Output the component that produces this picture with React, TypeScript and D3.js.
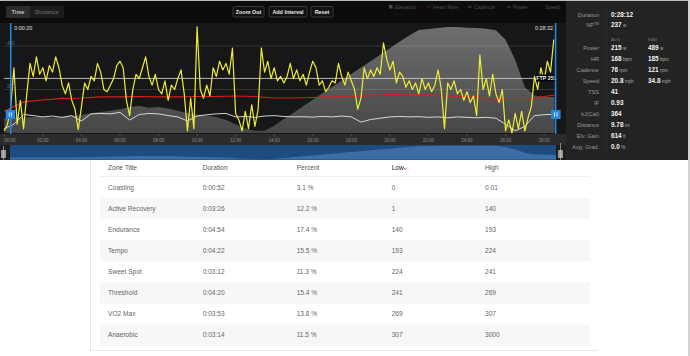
import React from "react";
import * as d3 from "d3";

// ---------------- DATA ----------------
// power samples every 10 s from 0:00
const powerWatts = [
  10, 40,
  120, 300, 40, 150, 20, 180, 320, 260, 350, 270, 300, 240, 310, 280, 350, 300, 220, 180, 230, 150, 110, 15, 120, 230, 200, 260, 240, 320, 280, 200,
  190, 220, 250, 310, 330, 300, 150, 80, 200, 270, 250, 300, 350, 260, 220, 270, 200, 180, 240, 150, 220, 200, 250, 290, 180, 10, 160, 20, 488, 200,
  160, 220, 170, 300, 260, 330, 290, 320, 270, 390, 90, 60, 10, 100, 20, 130, 30, 110, 391, 280, 330, 250, 300, 240, 260, 230, 260, 320, 250, 290,
  240, 270, 220, 280, 330, 300, 220, 240, 190, 210, 240, 230, 320, 260, 220, 280, 240, 200, 110, 160, 300, 250, 290, 260, 300, 270, 414, 340, 290, 330,
  230, 280,
  260, 210, 240, 200, 230, 180, 250, 200, 230, 190, 220, 290, 200, 20, 230, 200, 240, 180, 200, 150, 190, 140, 170, 80, 359, 200, 250, 170, 270, 180,
  140, 200, 10, 60, 0, 90, 20, 100, 10, 70, 120, 260, 200, 300, 240, 330, 280, 430,
];
const powerStepSec = 10;

// cadence every 30 s
const cadenceRpm = [
  20, 40, 85, 80, 74, 78, 72, 80, 55, 88, 90, 88, 95, 60, 85, 90, 88, 80, 74, 55,
  78, 84, 88, 90, 74, 76, 72, 78, 80, 76, 74, 75, 73, 76, 74, 78, 74, 50, 62, 68,
  74, 76, 74, 75, 72, 74, 70, 74, 72, 70, 72, 68, 40, 10, 30, 80, 84, 86,
];
const cadenceStepSec = 30;

// elevation (ft) every 30 s
const elevationFt = [
  98, 98, 100, 105, 105, 100, 105, 111, 118, 131, 137, 145, 155, 170, 177, 165, 170, 160, 145, 130,
  120, 115, 105, 85, 55, 30, 15, 15, 48, 92, 133, 175, 218, 260, 301, 344, 386, 428, 470, 512,
  555, 597, 638, 674, 680, 687, 693, 693, 688, 687, 682, 672, 610, 480, 300, 245, 235, 235,
];
const elevationStepSec = 30;

// heart rate: seconds and bpm
const heartRateSec = [0, 60, 120, 180, 240, 300, 360, 420, 480, 540, 600, 660, 720, 780, 840, 900, 960, 1020, 1080, 1140, 1200, 1260, 1320, 1380, 1440, 1500, 1560, 1620, 1680, 1712];
const heartRateBpm = [100, 143, 152, 159, 161, 166, 166, 168, 166, 166, 168, 168, 170, 168, 161, 161, 163, 166, 168, 172, 177, 179, 175, 170, 166, 163, 156, 152, 168, 175];

const rideEndSec = 1712;
const cursorStartSec = 20;
const ftpWatts = 251;
const powerTicks = [0, 200, 400];
const timeTicksSec = [0, 120, 240, 360, 480, 600, 720, 840, 960, 1080, 1200, 1320, 1440, 1560, 1680];
const timeTickLabels = ["00:00", "02:00", "04:00", "06:00", "08:00", "10:00", "12:00", "14:00", "16:00", "18:00", "20:00", "22:00", "24:00", "26:00", "28:00"];

const legendNames = ["Elevation", "Heart Rate", "Cadence", "Power", "Speed"];
const legendColors = ["#4a4a4a", "#5a1c1c", "#505050", "#55521c", "none"];

const statTopLabels = ["Duration", "NP"];
const statTopValues = ["0:28:12", "237"];
const statTopUnits = ["", "w"];
const statNames = ["Power", "HR", "Cadence", "Speed", "TSS", "IF", "kJ(Cal)", "Distance", "Elv. Gain", "Avg. Grad."];
const statAvg = ["215", "168", "76", "20.8", "41", "0.93", "364", "9.78", "614", "0.0"];
const statAvgUnit = ["w", "bpm", "rpm", "mph", "", "", "", "mi", "ft", "%"];
const statMax = ["489", "185", "121", "34.8", "", "", "", "", "", ""];
const statMaxUnit = ["w", "bpm", "rpm", "mph", "", "", "", "", "", ""];

const tableHeaders = ["Zone Title", "Duration", "Percent", "Low", "High"];
const zoneTitles = ["Coasting", "Active Recovery", "Endurance", "Tempo", "Sweet Spot", "Threshold", "VO2 Max", "Anaerobic"];
const zoneDurations = ["0:00:52", "0:03:26", "0:04:54", "0:04:22", "0:03:12", "0:04:20", "0:03:53", "0:03:14"];
const zonePercents = ["3.1 %", "12.2 %", "17.4 %", "15.5 %", "11.3 %", "15.4 %", "13.8 %", "11.5 %"];
const zoneLows = ["0", "1", "140", "193", "224", "241", "269", "307"];
const zoneHighs = ["0.01", "140", "193", "224", "241", "269", "307", "3000"];

const FONT = "'Liberation Sans', Arial, Helvetica, sans-serif";

function fmtCursor(s: number) {
  const m = Math.floor(s / 60);
  const ss = s % 60;
  return `0:${String(m).padStart(2, "0")}:${String(ss).padStart(2, "0")}`;
}

export default function App() {
  const x = d3.scaleLinear().domain([0, rideEndSec]).range([4.3, 554.4]);
  const y = d3.scaleLinear().domain([0, 400]).range([133, 46]);
  const yElev = d3.scaleLinear().domain([0, 700]).range([133, 26]);
  const xNav = d3.scaleLinear().domain([0, rideEndSec]).range([10, 556]);
  const yNav = d3.scaleLinear().domain([0, 700]).range([159.5, 145.5]);

  const powerPts: [number, number][] = powerWatts.map((v, i) => [i * powerStepSec, v]);
  const cadPts: [number, number][] = cadenceRpm.map((v, i) => [i * cadenceStepSec, v]);
  const elevPts: [number, number][] = elevationFt.map((v, i) => [Math.min(i * elevationStepSec, rideEndSec), v]);
  elevPts.push([rideEndSec, elevationFt[elevationFt.length - 1]]);
  const hrPts: [number, number][] = heartRateSec.map((s, i) => [s, heartRateBpm[i]]);

  const line = d3.line<[number, number]>().x((d) => x(d[0])).y((d) => y(d[1]));
  const elevArea = d3.area<[number, number]>().x((d) => x(d[0])).y0(133).y1((d) => yElev(d[1]));
  const navArea = d3.area<[number, number]>().x((d) => xNav(d[0])).y0(159.5).y1((d) => yNav(d[1]));

  // stats layout
  const statRowY = d3.scaleLinear().domain([0, 1]).range([48, 59]);
  const zoneBand = d3.scaleBand<string>().domain(zoneTitles).range([177, 345.6]);
  const colX = [108, 202.7, 296.7, 391.7, 485];

  const xCurL = x(cursorStartSec);
  const xCurR = x(rideEndSec) + 1.2;

  return (
    <svg width={690} height={356} style={{ position: "absolute", left: 0, top: 0, display: "block" }} fontFamily={FONT}>
      <defs>
        <linearGradient id="elevGrad" x1="0" y1="0" x2="0" y2="1">
          <stop offset="0%" stopColor="#6e6e6e" />
          <stop offset="100%" stopColor="#474747" />
        </linearGradient>
        <clipPath id="plotClip">
          <rect x={0} y={23} width={560} height={111} />
        </clipPath>
      </defs>
      <rect x={0} y={0} width={690} height={356} fill="#ffffff" />
      {/* dark chart region */}
      <rect x={0} y={0} width={566} height={160} fill="#0c0c0c" />
      <rect x={0} y={0} width={688} height={1} fill="#bdbdbd" />
      {/* plot background */}
      <rect x={0} y={23} width={566} height={111} fill="#171717" />

      {/* header buttons */}
      <rect x={6} y={6} width={24} height={12} fill="#2c2c2c" />
      <rect x={30} y={6} width={34} height={12} fill="#1c1c1c" />
      <text x={18} y={14} fontSize={5.6} fontWeight="bold" fill="#bdbdbd" textAnchor="middle">Time</text>
      <text x={47} y={14} fontSize={5.6} fontWeight="bold" fill="#5e5e5e" textAnchor="middle">Distance</text>
      {[["Zoom Out", 233, 31], ["Add Interval", 269, 38], ["Reset", 311, 22]].map(([t, bx, bw]) => (
        <g key={t as string}>
          <rect x={bx as number} y={6.5} width={bw as number} height={10.5} rx={1.5} fill="#121212" stroke="#4a4a4a" strokeWidth={0.7} />
          <text x={(bx as number) + (bw as number) / 2} y={13.8} fontSize={5.4} fontWeight="bold" fill="#e8e8e8" textAnchor="middle">{t}</text>
        </g>
      ))}
      {/* legend */}
      {legendNames.map((n, i) => {
        const lx = [389, 427, 468, 507, 545][i];
        return (
          <g key={n}>
            {i === 0 && <rect x={lx} y={5} width={3.5} height={3.5} fill={legendColors[i]} />}
            {i > 0 && i < 4 && <rect x={lx} y={6.4} width={3.5} height={1} fill={legendColors[i]} />}
            <text x={i === 4 ? lx : lx + 6} y={9} fontSize={5.2} fill="#4a4a4a">{n}</text>
          </g>
        );
      })}

      <g clipPath="url(#plotClip)">
        <path d={elevArea(elevPts) || ""} fill="url(#elevGrad)" />
        {powerTicks.filter((t) => t > 0).map((t) => (
          <line key={t} x1={4} x2={556} y1={y(t)} y2={y(t)} stroke="#ffffff" strokeOpacity={0.16} strokeWidth={0.8} />
        ))}
        <line x1={4} x2={556} y1={y(ftpWatts)} y2={y(ftpWatts)} stroke="#c8c8c8" strokeWidth={0.9} />
        <path d={line(cadPts) || ""} fill="none" stroke="#e6e6e6" strokeWidth={0.9} />
        <path d={line(hrPts) || ""} fill="none" stroke="#d81e1e" strokeWidth={1.1} />
        <path d={line(powerPts) || ""} fill="none" stroke="#eded3a" strokeWidth={1.2} strokeLinejoin="round" />
      </g>

      {/* y labels */}
      {powerTicks.map((t) => (
        <text key={t} x={7} y={y(t) - (t === 0 ? 2 : 1.5)} fontSize={4.6} fill="#6a6a6a">{t}</text>
      ))}

      {/* FTP label */}
      <rect x={536} y={74.5} width={21} height={7} fill="#050505" />
      <text x={546.5} y={80} fontSize={5.4} fontWeight="bold" fill="#f0f0f0" textAnchor="middle">FTP 251</text>

      {/* cursors */}
      <line x1={xCurL} x2={xCurL} y1={23} y2={134} stroke="#2488e0" strokeWidth={1.6} />
      <line x1={xCurR} x2={xCurR} y1={23} y2={134} stroke="#2488e0" strokeWidth={1.6} />
      <rect x={xCurL - 5} y={110} width={9.5} height={9} fill="#2488e0" />
      <rect x={xCurR - 4.5} y={110} width={9.5} height={9} fill="#2488e0" />
      {[xCurL - 0.3, xCurR + 0.2].map((cx, i) => (
        <g key={i}>
          <rect x={cx - 1.6} y={112.3} width={0.8} height={4.4} fill="#fff" />
          <rect x={cx + 0.8} y={112.3} width={0.8} height={4.4} fill="#fff" />
        </g>
      ))}
      <text x={xCurL + 3.5} y={30} fontSize={5.4} fill="#e0e0e0">{fmtCursor(cursorStartSec)}</text>
      <text x={xCurR - 2.5} y={30} fontSize={5.4} fill="#e0e0e0" textAnchor="end">{fmtCursor(rideEndSec)}</text>

      {/* time axis */}
      <rect x={0} y={134} width={566} height={11} fill="#2b2b2b" />
      {timeTicksSec.map((t, i) => (
        <g key={t}>
          <line x1={x(t)} x2={x(t)} y1={134} y2={136.5} stroke="#6a6a6a" strokeWidth={0.6} />
          <text x={Math.max(x(t), 10)} y={141.8} fontSize={4.5} fill="#8c8c8c" textAnchor="middle">{timeTickLabels[i]}</text>
        </g>
      ))}

      {/* navigator */}
      <rect x={0} y={145} width={566} height={15} fill="#1e1e1e" />
      <rect x={xNav(0)} y={145} width={xNav(rideEndSec) - xNav(0)} height={15} fill="#1d4c80" />
      <path d={navArea(elevPts) || ""} fill="#3c6da6" />
      <rect x={1} y={150} width={5} height={8} fill="#9a9a9a" />
      <line x1={3.5} x2={3.5} y1={146} y2={160} stroke="#cfcfcf" strokeWidth={0.6} />
      <rect x={558} y={150} width={5} height={8} fill="#9a9a9a" />
      <line x1={560.5} x2={560.5} y1={143} y2={160} stroke="#cfcfcf" strokeWidth={0.6} />

      {/* stats panel */}
      <rect x={566} y={1} width={122} height={159} fill="#232323" />
      <line x1={606} x2={606} y1={9} y2={152} stroke="#333" strokeWidth={0.7} />
      {statTopLabels.map((l, i) => (
        <g key={l}>
          <text x={599} y={[16.8, 27][i]} fontSize={5.6} fill="#9a9a9a" textAnchor="end">
            {l}
            {i === 1 && <tspan fontSize={3.5} dy={-1.8}>TM</tspan>}
          </text>
          <text x={611} y={[16.8, 27][i]} fontSize={6.4} fontWeight="bold" fill="#f2f2f2">
            {statTopValues[i]}
            {statTopUnits[i] && <tspan fontSize={4.6} fontWeight="normal" fill="#aaa"> {statTopUnits[i]}</tspan>}
          </text>
        </g>
      ))}
      <text x={611} y={41} fontSize={4.4} fill="#777">AVG</text>
      <text x={648} y={41} fontSize={4.4} fill="#777">MAX</text>
      {statNames.map((n, i) => {
        const ry = statRowY(i) + 2;
        return (
          <g key={n}>
            <text x={599} y={ry} fontSize={5.6} fill="#9a9a9a" textAnchor="end">{n}</text>
            <text x={611} y={ry} fontSize={6.4} fontWeight="bold" fill="#f2f2f2">
              {statAvg[i]}
              {statAvgUnit[i] && <tspan fontSize={4.6} fontWeight="normal" fill="#aaa"> {statAvgUnit[i]}</tspan>}
            </text>
            {statMax[i] && (
              <text x={648} y={ry} fontSize={6.4} fontWeight="bold" fill="#f2f2f2">
                {statMax[i]}
                <tspan fontSize={4.6} fontWeight="normal" fill="#aaa"> {statMaxUnit[i]}</tspan>
              </text>
            )}
          </g>
        );
      })}
      <rect x={688} y={0} width={2} height={356} fill="#d2d2d2" />

      {/* table */}
      <line x1={90.5} x2={90.5} y1={160} y2={350} stroke="#e6e6e6" strokeWidth={1} />
      <line x1={90} x2={598} y1={350.5} y2={350.5} stroke="#e6e6e6" strokeWidth={1} />
      {zoneTitles.map((z, i) =>
        i % 2 === 1 ? (
          <rect key={z} x={100} y={zoneBand(z)!} width={490} height={zoneBand.bandwidth()} fill="#f7f7f7" />
        ) : null
      )}
      <line x1={100} x2={590} y1={176.5} y2={176.5} stroke="#ececec" strokeWidth={0.8} />
      {tableHeaders.map((h, i) => (
        <text key={h} x={colX[i]} y={170.3} fontSize={6.6} fill={i === 3 ? "#222" : "#555"}>{h}</text>
      ))}
      <path d="M403.5,167.6 L405.3,169.6 L407.1,167.6" fill="none" stroke="#d62b2b" strokeWidth={0.8} />
      {zoneTitles.map((z, i) => {
        const cy = zoneBand(z)! + zoneBand.bandwidth() / 2 + 2.3;
        const cells = [z, zoneDurations[i], zonePercents[i], zoneLows[i], zoneHighs[i]];
        return (
          <g key={z}>
            {cells.map((c, j) => (
              <text key={j} x={colX[j]} y={cy} fontSize={6.6} fill="#666">{c}</text>
            ))}
          </g>
        );
      })}
    </svg>
  );
}
